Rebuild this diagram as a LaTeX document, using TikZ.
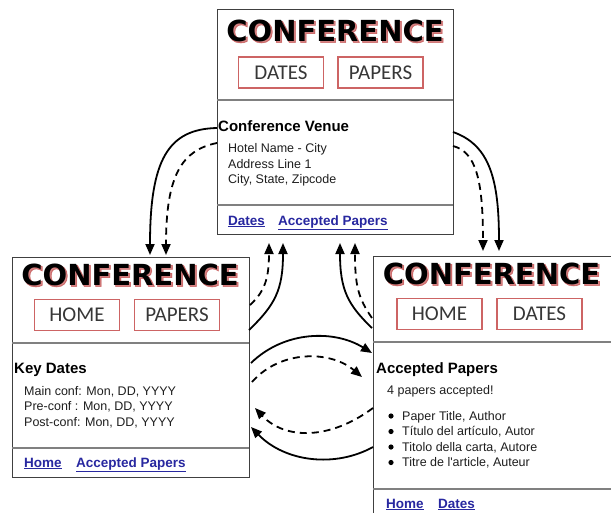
\documentclass[tikz,border=0pt]{standalone}
\usepackage{fontspec}
\setmainfont{Liberation Sans}
\newfontfamily\headfont{DejaVu Sans}
\newfontfamily\glowfont{DejaVu Sans Bold}[FakeBold=3]
\newfontfamily\glowfontb{DejaVu Sans Bold}[FakeBold=1.5]
\newfontfamily\btnfont{Carlito}
\usetikzlibrary{arrows.meta}
\definecolor{glowred}{RGB}{185,45,45}
\definecolor{btnred}{RGB}{205,100,100}
\definecolor{sepgray}{RGB}{128,128,128}
\definecolor{linkblue}{RGB}{40,40,160}
\definecolor{bodytxt}{RGB}{30,30,30}
\definecolor{btntxt}{RGB}{55,55,55}
\newcommand\conftitle[3]{%
  \node[titletxt, font=\glowfont\fontsize{29}{29}\selectfont, text=glowred, opacity=0.25] (#1glowa) at (#2+1.5,#3+1.5) {CONFERENCE};
  \node[titletxt, font=\glowfontb\fontsize{29}{29}\selectfont, text=glowred, opacity=0.45] (#1glowb) at (#2+1.5,#3+1.5) {CONFERENCE};
  \node[titletxt] (#1) at (#2,#3) {CONFERENCE};}
\begin{document}
\begin{tikzpicture}[x=1pt,y=-1pt,
  titletxt/.style={font=\headfont\bfseries\fontsize{29}{29}\selectfont, inner sep=0pt, anchor=base},
  btn/.style={draw=btnred, line width=1.3pt, minimum width=85pt, minimum height=31pt, inner sep=0pt,
     font=\btnfont\fontsize{21}{21}\selectfont, text=btntxt},
  panel/.style={draw=black!75, line width=1pt, fill=white, inner sep=0pt},
  sep/.style={draw=sepgray, line width=1.6pt},
  body/.style={font=\fontsize{12.5}{14}\selectfont, text=bodytxt, inner sep=0pt, anchor=base west},
  head/.style={font=\bfseries\fontsize{15}{17}\selectfont, text=black, inner sep=0pt, anchor=base west},
  lnk/.style={font=\bfseries\fontsize{13.5}{15}\selectfont, text=linkblue, inner sep=0pt, anchor=base west},
  arr/.style={-{Triangle[length=11pt,width=9pt]}, line width=1.8pt, black},
  darr/.style={arr, dash pattern=on 7pt off 5pt}]
\useasboundingbox (0,0) rectangle (611,512);
\fill[white] (0,0) rectangle (611,512);
\clip (0,0) rectangle (611,512);

% ---------- top panel: venue ----------
\node[panel, minimum width=236pt, minimum height=225pt] (venue) at (335,121.5) {};
\conftitle{vtitle}{335}{41}
\node[btn] (vbdates) at (281,72.5) {\raisebox{-1pt}{DATES}};
\node[btn] (vbpapers) at (380.5,72.5) {\raisebox{-1pt}{PAPERS}};
\draw[sep] (217,100) -- (453,100);
\node[head] (vhead) at (218,131) {Conference Venue};
\node[body] (v1) at (228,152) {Hotel Name - City};
\node[body] (v2) at (228,168) {Address Line 1};
\node[body] (v3) at (228,183.5) {City, State, Zipcode};
\draw[sep] (217,205) -- (453,205);
\node[lnk] (vl1) at (228,225) {\underline{Dates}};
\node[lnk] (vl2) at (278,225) {\underline{Accepted Papers}};

% ---------- left panel: dates ----------
\node[panel, minimum width=237pt, minimum height=220pt] (dates) at (130.5,367) {};
\conftitle{dtitle}{130}{285}
\node[btn] (dbhome) at (77,315) {\raisebox{-1pt}{HOME}};
\node[btn] (dbpapers) at (177,315) {\raisebox{-1pt}{PAPERS}};
\draw[sep] (12,343) -- (249,343);
\node[head] (dhead) at (14,373) {Key Dates};
\node[body] (d1) at (24,395) {Main conf: Mon, DD, YYYY};
\node[body] (d2) at (24,410.5) {Pre-conf : Mon, DD, YYYY};
\node[body] (d3) at (24,426) {Post-conf: Mon, DD, YYYY};
\draw[sep] (12,448) -- (249,448);
\node[lnk] (dl1) at (24,467) {\underline{Home}};
\node[lnk] (dl2) at (76,467) {\underline{Accepted Papers}};

% ---------- right panel: papers ----------
\node[panel, minimum width=260pt, minimum height=280pt] (papers) at (503,396) {};
\conftitle{ptitle}{491.5}{284}
\node[btn] (pbhome) at (439.5,314) {\raisebox{-1pt}{HOME}};
\node[btn] (pbdates) at (539.5,314) {\raisebox{-1pt}{DATES}};
\draw[sep] (373,342) -- (611,342);
\node[head] (phead) at (376,373) {Accepted Papers};
\node[body] (p0) at (387,394) {4 papers accepted!};
\node[body] (p1) at (402,420) {Paper Title, Author};
\node[body] (p2) at (402,435.5) {Título del artículo, Autor};
\node[body] (p3) at (402,451) {Titolo della carta, Autore};
\node[body] (p4) at (402,466.5) {Titre de l\textquotesingle article, Auteur};
\foreach \yy in {416,431.5,447,462.5} \fill[black] (391,\yy) circle (2.6pt);
\draw[sep] (373,489) -- (611,489);
\node[lnk] (pl1) at (386,508) {\underline{Home}};
\node[lnk] (pl2) at (438,508) {\underline{Dates}};

% ---------- connector ends ----------
\coordinate (vA) at (217,128);  \coordinate (dA) at (150,255);
\coordinate (vB) at (217,143);  \coordinate (dB) at (166,255);
\coordinate (vC) at (453,132);  \coordinate (pC) at (499,251);
\coordinate (vD) at (453,146);  \coordinate (pD) at (483,251);
\coordinate (dE) at (249,330);  \coordinate (vE) at (283,243);
\coordinate (dF) at (250,305);  \coordinate (vF) at (269,243);
\coordinate (pG) at (372,328);  \coordinate (vG) at (340,243);
\coordinate (pH) at (372,318);  \coordinate (vH) at (355,243);
\coordinate (dI) at (251,363);  \coordinate (pI) at (372,353);
\coordinate (dJ) at (252,382);  \coordinate (pJ) at (362,377);
\coordinate (pK) at (373,408);  \coordinate (dK) at (255,408);
\coordinate (pL) at (373,447);  \coordinate (dL) at (251,427);

% ---------- connectors ----------
\draw[arr]  (vA) .. controls (168,129) and (150,160) .. (dA);
\draw[darr] (vB) .. controls (182,150) and (166,175) .. (dB);
\draw[arr]  (vC) .. controls (490,145) and (499,180) .. (pC);
\draw[darr] (vD) .. controls (476,152) and (483,180) .. (pD);
\draw[arr]  (dE) .. controls (275,305) and (283,290) .. (vE);
\draw[darr] (dF) .. controls (264,292) and (269,280) .. (vF);
\draw[arr]  (pG) .. controls (348,305) and (340,290) .. (vG);
\draw[darr] (pH) .. controls (358,298) and (355,285) .. (vH);
\draw[arr]  (dI) .. controls (285,330) and (335,330) .. (pI);
\draw[darr] (dJ) .. controls (280,350) and (330,350) .. (pJ);
\draw[darr] (pK) .. controls (330,440) and (285,440) .. (dK);
\draw[arr]  (pL) .. controls (335,468) and (285,462) .. (dL);
\end{tikzpicture}
\end{document}
